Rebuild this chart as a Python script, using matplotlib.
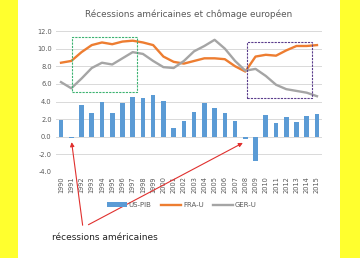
import matplotlib
matplotlib.use('Agg')
import matplotlib.pyplot as plt
from matplotlib.patches import Rectangle

years = list(range(1990, 2016))
us_pib = [1.9, -0.1, 3.6, 2.7, 4.0, 2.7, 3.8, 4.5, 4.4, 4.7, 4.1, 1.0, 1.8,
          2.8, 3.8, 3.3, 2.7, 1.8, -0.3, -2.8, 2.5, 1.6, 2.2, 1.7, 2.4, 2.6]
fra_u = [8.4, 8.6, 9.6, 10.4, 10.7, 10.5, 10.8, 10.9, 10.7, 10.4, 9.1, 8.5, 8.3,
         8.6, 8.9, 8.9, 8.8, 8.0, 7.4, 9.1, 9.3, 9.2, 9.8, 10.3, 10.3, 10.4]
ger_u = [6.2, 5.5, 6.6, 7.8, 8.4, 8.2, 8.9, 9.6, 9.4, 8.6, 7.9, 7.8, 8.6,
         9.7, 10.3, 11.0, 10.0, 8.6, 7.5, 7.7, 6.9, 5.9, 5.4, 5.2, 5.0, 4.6]

fig = plt.figure(figsize=(3.6, 2.58), dpi=100)
fig.patch.set_facecolor('white')

# yellow side bands
fig.add_artist(Rectangle((0, 0), 18 / 360, 1, transform=fig.transFigure,
                         facecolor='#FFFF2E', edgecolor='none'))
fig.add_artist(Rectangle((340 / 360, 0), 20 / 360, 1, transform=fig.transFigure,
                         facecolor='#FFFF2E', edgecolor='none'))

ax = fig.add_axes([55.9 / 360, 1 - 172 / 258, 266.2 / 360, 141 / 258])
x = list(range(len(years)))

bars = ax.bar(x, us_pib, width=0.45, color='#5B9BD5', label='US-PIB', zorder=2)
l1, = ax.plot(x, fra_u, color='#ED7D31', lw=1.7, label='FRA-U', zorder=3)
l2, = ax.plot(x, ger_u, color='#A5A5A5', lw=1.7, label='GER-U', zorder=3)

ax.set_xlim(-0.5, len(years) - 0.5)
ax.set_ylim(-4, 12)
ax.set_yticks(range(-4, 13, 2))
ax.set_yticklabels([f'{v:.1f}' for v in range(-4, 13, 2)])
ax.set_xticks(x)
ax.set_xticklabels([str(y) for y in years], rotation=90)
ax.tick_params(axis='both', labelsize=4.8, colors='#595959', length=0, pad=3)
ax.yaxis.grid(True, color='#D9D9D9', lw=0.7, zorder=0)
ax.set_axisbelow(True)
for s in ax.spines.values():
    s.set_visible(False)

# highlighted periods
ax.add_patch(Rectangle((1.07, 5.1), 6.35, 6.2, fill=False, ls=(0, (2, 1)),
                       edgecolor='#3CB371', lw=0.8, zorder=4))
ax.add_patch(Rectangle((18.16, 4.4), 6.34, 6.3, fill=False, ls=(0, (2, 1)),
                       edgecolor='#5A3C8C', lw=0.8, zorder=4))

ax.set_title('Récessions américaines et chômage européen', fontsize=6.4,
             color='#595959', pad=10)

leg = fig.legend(handles=[bars, l1, l2], loc='center',
                 bbox_to_anchor=(182 / 360, 1 - 205 / 258), ncol=3,
                 frameon=False, fontsize=5, handlelength=2.8, columnspacing=1.4,
                 handletextpad=0.3)
for t in leg.get_texts():
    t.set_color('#595959')

# arrows to US recessions
ax.annotate('', xy=(1.0, -0.3), xycoords='data',
            xytext=(83 / 360, 1 - 228 / 258), textcoords='figure fraction',
            arrowprops=dict(arrowstyle='-|>', color='#E0302E', lw=0.8,
                            mutation_scale=6), annotation_clip=False)
ax.annotate('', xy=(18.0, -0.55), xycoords='data',
            xytext=(86 / 360, 1 - 226 / 258), textcoords='figure fraction',
            arrowprops=dict(arrowstyle='-|>', color='#E0302E', lw=0.8,
                            mutation_scale=6), annotation_clip=False)

fig.text(52 / 360, 1 - 237 / 258, 'récessions américaines', fontsize=6.5,
         color='#222222', ha='left', va='center')

fig.savefig('out.png', dpi=100)
